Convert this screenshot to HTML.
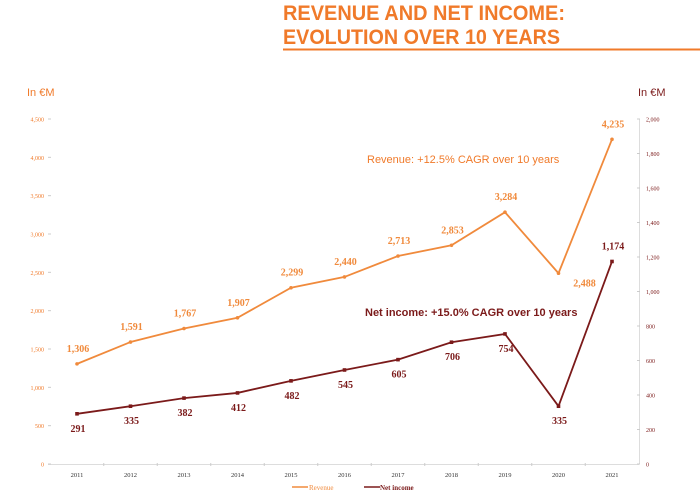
<!DOCTYPE html>
<html><head><meta charset="utf-8"><style>
body{margin:0;width:700px;height:496px;background:#fff;overflow:hidden;font-family:"Liberation Sans",sans-serif}
svg{position:absolute;left:0;top:0}
</style></head><body>
<svg width="700" height="496">
<text x="283" y="20" font-size="21" font-weight="bold" fill="#f07a2a" textLength="282" lengthAdjust="spacingAndGlyphs">REVENUE AND NET INCOME:</text>
<text x="283" y="44" font-size="21" font-weight="bold" fill="#f07a2a" textLength="277" lengthAdjust="spacingAndGlyphs">EVOLUTION OVER 10 YEARS</text>
<line x1="283" y1="49.5" x2="700" y2="49.5" stroke="#f07a2a" stroke-width="2"/>
<text x="27" y="96" font-size="11" fill="#f07a2a">In €M</text>
<text x="638" y="96" font-size="11" fill="#7b1a1a">In €M</text>
<text x="367" y="163" font-size="11" fill="#f07a2a">Revenue: +12.5% CAGR over 10 years</text>
<text x="365" y="316" font-size="11" font-weight="bold" fill="#7b1a1a">Net income: +15.0% CAGR over 10 years</text>
<g id="g"></g>
</svg>
<script>
const years=['2011','2012','2013','2014','2015','2016','2017','2018','2019','2020','2021'];
const revenue=[1306,1591,1767,1907,2299,2440,2713,2853,3284,2488,4235];
const netIncome=[291,335,382,412,482,545,605,706,754,335,1174];
const leftTicks=[0,500,1000,1500,2000,2500,3000,3500,4000,4500];
const rightTicks=[0,200,400,600,800,1000,1200,1400,1600,1800,2000];
const NS='http://www.w3.org/2000/svg',g=document.getElementById('g');
const x=i=>77+i*53.5, yL=v=>464-v/4500*345, yR=v=>464-v/2000*345;
function mk(t,a,txt){const e=document.createElementNS(NS,t);for(const k in a)e.setAttribute(k,a[k]);if(txt!=null)e.textContent=txt;g.appendChild(e);return e;}
const fmt=v=>v.toLocaleString('en-US');
let e=mk('line',{x1:48,y1:464.5,x2:639,y2:464.5,stroke:'#ddd'});


e=mk('line',{x1:639.5,y1:119,x2:639.5,y2:464,stroke:'#ddd'});


leftTicks.forEach(v=>{const t=mk('text',{x:44,y:yL(v)+2.5,'font-size':6,'text-anchor':'end',fill:'#f07a2a','font-family':'Liberation Serif'},fmt(v));


mk('line',{x1:48,y1:yL(v),x2:51,y2:yL(v),stroke:'#ccc'});});
rightTicks.forEach(v=>{const t=mk('text',{x:646,y:yR(v)+2.5,'font-size':6,fill:'#7b1a1a','font-family':'Liberation Serif'},fmt(v));


mk('line',{x1:637,y1:yR(v),x2:640,y2:yR(v),stroke:'#ccc'});});
years.forEach((y,i)=>{const t=mk('text',{x:x(i),y:477,'font-size':6.5,'text-anchor':'middle',fill:'#333','font-family':'Liberation Serif'},y);


if(i<10)mk('line',{x1:x(i)+26.75,y1:463,x2:x(i)+26.75,y2:466,stroke:'#ccc'});});
e=mk('polyline',{points:revenue.map((v,i)=>x(i)+','+yL(v)).join(' '),fill:'none',stroke:'#f08a3c','stroke-width':1.8});


e=mk('polyline',{points:netIncome.map((v,i)=>x(i)+','+yR(v)).join(' '),fill:'none',stroke:'#7b1a1a','stroke-width':1.8});


revenue.forEach((v,i)=>{const p=mk('circle',{cx:x(i),cy:yL(v),r:1.8,fill:'#f08a3c'});


const last9=i===9;const t=mk('text',{x:last9?x(i)+26:x(i)+1,y:last9?yL(v)+13:yL(v)-12,'font-size':10,'font-weight':'bold','text-anchor':'middle',fill:'#f08a3c','font-family':'Liberation Serif'},fmt(v));

});
netIncome.forEach((v,i)=>{const p=mk('rect',{x:x(i)-1.8,y:yR(v)-1.8,width:3.6,height:3.6,fill:'#7b1a1a'});


const t=mk('text',{x:x(i)+1,y:i===10?yR(v)-12:yR(v)+18,'font-size':10,'font-weight':'bold','text-anchor':'middle',fill:'#7b1a1a','font-family':'Liberation Serif'},fmt(v));

});
e=mk('line',{x1:292,y1:487,x2:308,y2:487,stroke:'#f08a3c','stroke-width':1.5});


e=mk('text',{x:309,y:490,'font-size':7,fill:'#f08a3c','font-family':'Liberation Serif'},'Revenue');


e=mk('line',{x1:364,y1:487,x2:380,y2:487,stroke:'#7b1a1a','stroke-width':1.5});


e=mk('text',{x:380,y:490,'font-size':7,'font-weight':'bold',fill:'#7b1a1a','font-family':'Liberation Serif'},'Net income');


</script>
</body></html>
